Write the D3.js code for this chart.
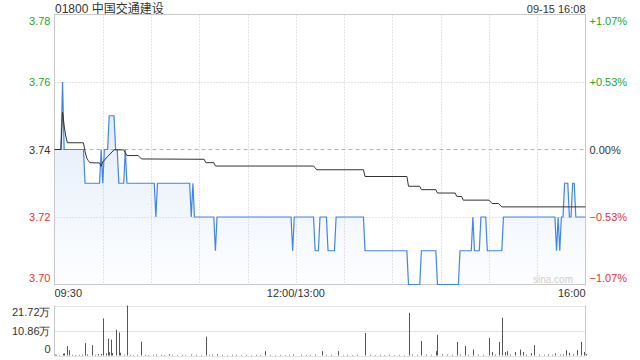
<!DOCTYPE html>
<html>
<head>
<meta charset="utf-8">
<script src="https://cdn.jsdelivr.net/npm/d3@7"></script>
<style>
  body { margin: 0; background: #fff; }
  svg { display: block; font-family: "Liberation Sans", Arial, "Noto Sans CJK SC", sans-serif; }
  .tick text { font-size: 11px; }
</style>
</head>
<body>
<svg id="chart" width="640" height="360"></svg>
<script>
const stockTitle = "01800 中国交通建设";
const stampText = "09-15 16:08";
const prevClose = 3.74;
const priceTicks = [3.70, 3.72, 3.74, 3.76, 3.78];
const volTicks = [0, 10.86, 21.72];
const timeLabels = [["09:30", "start"], ["12:00", "middle", "12:00/13:00"], ["16:00", "end"]];
const gridTimes = ["10:00", "10:30", "11:00", "11:30", "12:00", "13:30", "14:00", "14:30", "15:00", "15:30"];

// last price, change points only
const priceRows = [
  ["09:30", 3.74], ["09:34", 3.74], ["09:35", 3.76], ["09:36", 3.74], ["09:48", 3.74],
  ["09:49", 3.73], ["09:58", 3.73], ["09:59", 3.74], ["10:00", 3.73], ["10:01", 3.74],
  ["10:03", 3.74], ["10:04", 3.75], ["10:07", 3.75], ["10:08", 3.74], ["10:09", 3.74],
  ["10:10", 3.73], ["10:13", 3.73], ["10:14", 3.74], ["10:15", 3.73], ["10:32", 3.73],
  ["10:33", 3.72], ["10:34", 3.73], ["10:54", 3.73], ["10:55", 3.72], ["10:56", 3.73],
  ["10:57", 3.72], ["11:09", 3.72], ["11:10", 3.71], ["11:11", 3.72], ["11:57", 3.72],
  ["11:58", 3.71], ["11:59", 3.72], ["13:11", 3.72], ["13:12", 3.71], ["13:14", 3.71],
  ["13:15", 3.72], ["13:19", 3.72], ["13:20", 3.71], ["13:24", 3.71], ["13:25", 3.72],
  ["13:42", 3.72], ["13:43", 3.71], ["14:09", 3.71], ["14:10", 3.70], ["14:17", 3.70],
  ["14:18", 3.71], ["14:27", 3.71], ["14:28", 3.70], ["14:41", 3.70], ["14:42", 3.71],
  ["14:49", 3.71], ["14:50", 3.72], ["14:51", 3.71], ["14:54", 3.71], ["14:55", 3.72],
  ["14:58", 3.72], ["14:59", 3.71], ["15:08", 3.71], ["15:09", 3.72], ["15:41", 3.72],
  ["15:42", 3.71], ["15:43", 3.72], ["15:44", 3.71], ["15:45", 3.72], ["15:46", 3.72],
  ["15:47", 3.73], ["15:49", 3.73], ["15:50", 3.72], ["15:51", 3.72], ["15:52", 3.73],
  ["15:53", 3.73], ["15:54", 3.72], ["16:00", 3.72]
];

// average price
const avgRows = [
  ["09:30", 3.74], ["09:34", 3.74], ["09:35", 3.751], ["09:36", 3.747], ["09:37", 3.744],
  ["09:38", 3.742], ["09:48", 3.742], ["09:49", 3.7394], ["09:50", 3.7375], ["09:51", 3.7367],
  ["09:52", 3.7361], ["09:58", 3.736], ["09:59", 3.735], ["10:00", 3.7363], ["10:03", 3.7379],
  ["10:07", 3.7399], ["10:13", 3.7399], ["10:15", 3.7382], ["10:22", 3.7382], ["10:24", 3.7372],
  ["11:03", 3.7371], ["11:04", 3.7361], ["11:09", 3.7361], ["11:10", 3.7351], ["13:11", 3.7351],
  ["13:13", 3.734], ["13:42", 3.734], ["13:43", 3.732], ["14:09", 3.732], ["14:10", 3.7291],
  ["14:17", 3.7291], ["14:18", 3.7281], ["14:27", 3.7281], ["14:28", 3.7271], ["14:39", 3.7271],
  ["14:40", 3.7261], ["14:43", 3.7261], ["14:44", 3.725], ["15:00", 3.725], ["15:02", 3.724],
  ["15:06", 3.724], ["15:08", 3.723], ["16:00", 3.723]
];

// volume, in 万 shares
const volRows = [
  ["09:30", 0.4], ["09:31", 0.3], ["09:33", 0.2], ["09:35", 0.8], ["09:36", 0.9], ["09:38", 4.1],
  ["09:39", 2.3], ["09:41", 0.3], ["09:43", 0.2], ["09:45", 0.3], ["09:47", 0.4], ["09:49", 5.4],
  ["09:50", 0.5], ["09:53", 4.5], ["09:55", 0.3], ["09:57", 0.6], ["09:59", 0.7], ["10:00", 16.1],
  ["10:02", 0.9], ["10:03", 7.3], ["10:04", 1.4], ["10:05", 6.9], ["10:06", 1.1], ["10:08", 11.2],
  ["10:10", 10.0], ["10:11", 1.2], ["10:13", 0.3], ["10:15", 21.72], ["10:17", 0.3], ["10:19", 0.2],
  ["10:21", 0.3], ["10:24", 6.0], ["10:26", 0.3], ["10:28", 0.2], ["10:31", 0.3], ["10:33", 0.4],
  ["10:36", 0.3], ["10:38", 0.2], ["10:41", 0.6], ["10:43", 0.3], ["10:46", 0.2], ["10:49", 0.3],
  ["10:51", 0.2], ["10:55", 0.4], ["10:58", 0.3], ["11:01", 0.2], ["11:04", 8.2], ["11:06", 0.3],
  ["11:08", 0.4], ["11:11", 0.6], ["11:14", 0.3], ["11:17", 0.2], ["11:20", 0.3], ["11:23", 0.3],
  ["11:26", 0.2], ["11:29", 0.3], ["11:32", 0.2], ["11:35", 0.3], ["11:38", 0.2], ["11:41", 1.9],
  ["11:44", 0.3], ["11:47", 0.2], ["11:50", 0.3], ["11:53", 0.2], ["11:56", 0.3], ["11:58", 0.5],
  ["13:03", 0.3], ["13:06", 0.2], ["13:09", 0.3], ["13:12", 0.4], ["13:16", 1.9], ["13:19", 0.3],
  ["13:22", 0.3], ["13:26", 1.9], ["13:29", 0.2], ["13:32", 0.3], ["13:35", 0.2], ["13:38", 0.3],
  ["13:43", 9.8], ["13:46", 0.3], ["13:49", 0.2], ["13:52", 0.3], ["13:55", 0.2], ["13:58", 0.3],
  ["14:01", 0.2], ["14:04", 0.3], ["14:07", 0.2], ["14:10", 18.5], ["14:12", 0.5], ["14:15", 0.3],
  ["14:18", 6.3], ["14:21", 0.4], ["14:24", 0.3], ["14:27", 1.9], ["14:28", 9.0], ["14:31", 0.5],
  ["14:34", 0.4], ["14:37", 0.3], ["14:40", 5.9], ["14:42", 0.4], ["14:45", 4.1], ["14:47", 0.3],
  ["14:50", 2.6], ["14:53", 0.4], ["14:56", 0.3], ["15:00", 7.6], ["15:02", 1.5], ["15:04", 0.4],
  ["15:06", 5.9], ["15:08", 16.4], ["15:10", 1.5], ["15:11", 1.9], ["15:13", 0.4], ["15:16", 1.5],
  ["15:19", 2.6], ["15:21", 1.5], ["15:23", 0.4], ["15:26", 1.0], ["15:28", 4.5], ["15:31", 0.4],
  ["15:34", 0.3], ["15:37", 0.5], ["15:39", 0.3], ["15:41", 0.9], ["15:44", 0.4], ["15:46", 0.5],
  ["15:48", 2.3], ["15:50", 1.2], ["15:52", 0.5], ["15:55", 2.3], ["15:57", 5.9], ["15:59", 1.5],
  ["16:00", 0.6]
];

const GREEN = "#1ea51e", RED = "#e8312f", DARK = "#333";

// minutes since open, lunch break removed (12:00 and 13:00 share one slot)
function toIdx(t) {
  const [h, m] = t.split(":").map(Number);
  let mins = h * 60 + m - 570;
  if (mins >= 210) mins -= 60;
  return mins;
}

const svg = d3.select("#chart");
const plotLeft = 54.5, plotRight = 585.5, plotTop = 14.5, plotBottom = 284.5;
const volTop = 305.5, volBottom = 355.5;

const x = d3.scaleLinear().domain([0, 330]).range([plotLeft, plotRight]);
const y = d3.scaleLinear().domain([3.70, 3.78]).range([plotBottom, plotTop]);
const yv = d3.scaleLinear().domain([0, 21.72]).range([volBottom, volTop]);

const colorOf = d => Math.abs(d - prevClose) < 1e-9 ? DARK : (d > prevClose ? GREEN : RED);

// header
svg.append("text").attr("x", 55).attr("y", 13).attr("font-size", 12).attr("fill", DARK).text(stockTitle);
svg.append("text").attr("x", plotRight).attr("y", 13).attr("text-anchor", "end")
  .attr("font-size", 11).attr("fill", DARK).text(stampText);

// fill under price
const defs = svg.append("defs");
const grad = defs.append("linearGradient").attr("id", "fillGrad")
  .attr("gradientUnits", "userSpaceOnUse").attr("x1", 0).attr("x2", 0).attr("y1", plotTop).attr("y2", plotBottom);
grad.append("stop").attr("offset", 0).attr("stop-color", "#3d7fe0").attr("stop-opacity", 0.22);
grad.append("stop").attr("offset", 1).attr("stop-color", "#3d7fe0").attr("stop-opacity", 0.01);

const priceData = priceRows.map(d => ({ i: toIdx(d[0]), p: d[1] }));
const avgData = avgRows.map(d => ({ i: toIdx(d[0]), p: d[1] }));

svg.append("path").datum(priceData)
  .attr("fill", "url(#fillGrad)")
  .attr("d", d3.area().x(d => x(d.i)).y0(y(3.70)).y1(d => y(d.p)));

// grid
const grid = svg.append("g").attr("stroke", "#c8c8c8").attr("stroke-dasharray", "1,2");
grid.selectAll(".vg").data(gridTimes).enter().append("line")
  .attr("x1", d => Math.round(x(toIdx(d))) + 0.5).attr("x2", d => Math.round(x(toIdx(d))) + 0.5)
  .attr("y1", plotTop).attr("y2", plotBottom);
grid.selectAll(".hg").data([3.72, 3.76]).enter().append("line")
  .attr("x1", plotLeft).attr("x2", plotRight)
  .attr("y1", d => Math.round(y(d)) + 0.5).attr("y2", d => Math.round(y(d)) + 0.5);

svg.append("line").attr("x1", plotLeft).attr("x2", plotRight)
  .attr("y1", Math.round(y(prevClose)) + 0.5).attr("y2", Math.round(y(prevClose)) + 0.5)
  .attr("stroke", "#f0a27a").attr("stroke-dasharray", "4,3");

svg.append("rect").attr("x", plotLeft).attr("y", plotTop)
  .attr("width", plotRight - plotLeft).attr("height", plotBottom - plotTop)
  .attr("fill", "none").attr("stroke", "#c8c8c8");

svg.append("text").attr("x", 553).attr("y", 283).attr("text-anchor", "middle")
  .attr("font-size", 10).attr("fill", "#cfcfcf").text("sina.com");

// lines
svg.append("path").datum(priceData)
  .attr("fill", "none").attr("stroke", "#4185e6").attr("stroke-width", 1.2)
  .attr("d", d3.line().x(d => x(d.i)).y(d => y(d.p)));
svg.append("path").datum(avgData)
  .attr("fill", "none").attr("stroke", "#333").attr("stroke-width", 1)
  .attr("d", d3.line().x(d => x(d.i)).y(d => y(d.p)));

// price axes
function fixEnds(g, n) {
  g.select(".domain").remove();
  g.selectAll(".tick text").attr("dy", (d, i) => i === 0 ? "-0.3em" : (i === n - 1 ? "0.95em" : "0.35em"));
}
const yAxisL = d3.axisLeft(y).tickValues(priceTicks).tickSize(0).tickPadding(4).tickFormat(d3.format(".2f"));
const gl = svg.append("g").attr("transform", `translate(${plotLeft},0)`).call(yAxisL);
fixEnds(gl, priceTicks.length);
gl.selectAll(".tick text").attr("fill", d => colorOf(d));

const pctFmt = d => {
  const v = (d - prevClose) / prevClose * 100;
  return Math.abs(v) < 1e-9 ? "0.00%" : d3.format("+.2f")(v) + "%";
};
const yAxisR = d3.axisRight(y).tickValues(priceTicks).tickSize(0).tickPadding(4).tickFormat(pctFmt);
const gr = svg.append("g").attr("transform", `translate(${plotRight},0)`).call(yAxisR);
fixEnds(gr, priceTicks.length);
gr.selectAll(".tick text").attr("fill", d => colorOf(d));

// time labels
svg.selectAll(".tl").data(timeLabels).enter().append("text")
  .attr("x", d => x(toIdx(d[0]))).attr("y", 297)
  .attr("text-anchor", d => d[1]).attr("font-size", 11).attr("fill", DARK)
  .text(d => d[2] || d[0]);

// volume panel
const vg = svg.append("g").attr("stroke", "#c8c8c8").attr("stroke-dasharray", "1,1");
vg.selectAll("line").data(volTicks).enter().append("line")
  .attr("x1", plotLeft).attr("x2", plotRight)
  .attr("y1", d => Math.round(yv(d)) + 0.5).attr("y2", d => Math.round(yv(d)) + 0.5);
svg.append("line").attr("x1", plotLeft).attr("x2", plotLeft).attr("y1", volTop).attr("y2", volBottom).attr("stroke", "#c8c8c8");
svg.append("line").attr("x1", plotRight).attr("x2", plotRight).attr("y1", volTop).attr("y2", volBottom).attr("stroke", "#c8c8c8");

svg.append("g").selectAll("rect").data(volRows).enter().append("rect")
  .attr("x", d => Math.round(x(toIdx(d[0]))))
  .attr("width", 1)
  .attr("y", d => yv(d[1]))
  .attr("height", d => yv(0) - yv(d[1]))
  .attr("fill", "#555");

const yAxisV = d3.axisLeft(yv).tickValues(volTicks).tickSize(0).tickPadding(4)
  .tickFormat(d => d === 0 ? "0" : d3.format(".2f")(d) + "万");
const gv = svg.append("g").attr("transform", `translate(${plotLeft},0)`).call(yAxisV);
fixEnds(gv, volTicks.length);
gv.selectAll(".tick text").attr("fill", DARK);
</script>
</body>
</html>
